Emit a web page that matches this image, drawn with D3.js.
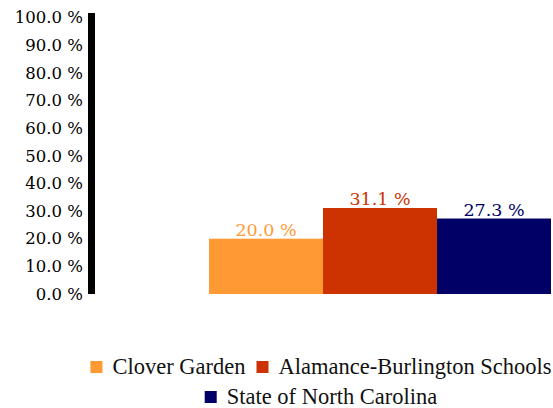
<!DOCTYPE html>
<html lang="en">
<head>
    <meta charset="UTF-8">
    <title>Bar chart</title>
    <script src="https://d3js.org/d3.v7.min.js"></script>
    <style>
        body, html { margin: 0; background: #fff; }
        svg { display: block; }
    </style>
</head>
<body>
    <div id="chart"></div>
    <script>
        var series = ["Clover Garden", "Alamance-Burlington Schools", "State of North Carolina"];
        var values = [20.0, 31.1, 27.3];
        var colors = ["#FF9933", "#CC3300", "#000066"];
        var tickValues = [0, 10, 20, 30, 40, 50, 60, 70, 80, 90, 100];

        var width = 553, height = 408;
        var svg = d3.select("#chart").append("svg").attr("width", width).attr("height", height);

        var yScale = d3.scaleLinear().domain([0, 100]).range([294, 17.5]);
        var xScale = d3.scaleBand().domain(series).range([209, 551]).padding(0);

        // axis: labels only, thick black line
        var yAxis = d3.axisLeft(yScale).tickValues(tickValues).tickSize(0).tickPadding(12)
            .tickFormat(d => d.toFixed(1) + " %");
        var gy = svg.append("g").attr("transform", "translate(95,0)").call(yAxis);
        gy.select(".domain").remove();
        gy.selectAll("text")
            .attr("font-family", "Georgia, 'DejaVu Serif', serif")
            .attr("font-size", 16.5)
            .attr("fill", "#000");

        svg.append("rect")
            .attr("x", 88).attr("y", 13)
            .attr("width", 7).attr("height", 294 - 13)
            .attr("fill", "#000");

        svg.selectAll("rect.bar").data(series).enter().append("rect")
            .attr("class", "bar")
            .attr("x", d => xScale(d))
            .attr("y", (d, i) => yScale(values[i]))
            .attr("width", xScale.bandwidth())
            .attr("height", (d, i) => yScale(0) - yScale(values[i]))
            .attr("fill", (d, i) => colors[i]);

        svg.selectAll("text.val").data(series).enter().append("text")
            .attr("class", "val")
            .attr("x", d => xScale(d) + xScale.bandwidth() / 2)
            .attr("y", (d, i) => yScale(values[i]) - 3)
            .attr("text-anchor", "middle")
            .attr("font-family", "Georgia, 'DejaVu Serif', serif")
            .attr("font-size", 17.5)
            .attr("fill", (d, i) => colors[i])
            .text((d, i) => values[i].toFixed(1) + " %");

        // legend, two rows centred
        var legendRows = [[0, 1], [2]];
        var rowY = [367, 397];
        legendRows.forEach(function (row, r) {
            var g = svg.append("g");
            var x = 0;
            row.forEach(function (i) {
                g.append("rect").attr("x", x).attr("y", rowY[r] - 6)
                    .attr("width", 12).attr("height", 12).attr("fill", colors[i]);
                var t = g.append("text").attr("x", x + 22).attr("y", rowY[r] + 7)
                    .attr("font-family", "'Liberation Serif', 'Times New Roman', serif")
                    .attr("font-size", 22.5)
                    .attr("fill", "#111")
                    .text(series[i]);
                x += 22 + t.node().getComputedTextLength() + 11;
            });
            var w = x - 11;
            g.attr("transform", "translate(" + (321 - w / 2) + ",0)");
        });
    </script>
</body>
</html>
